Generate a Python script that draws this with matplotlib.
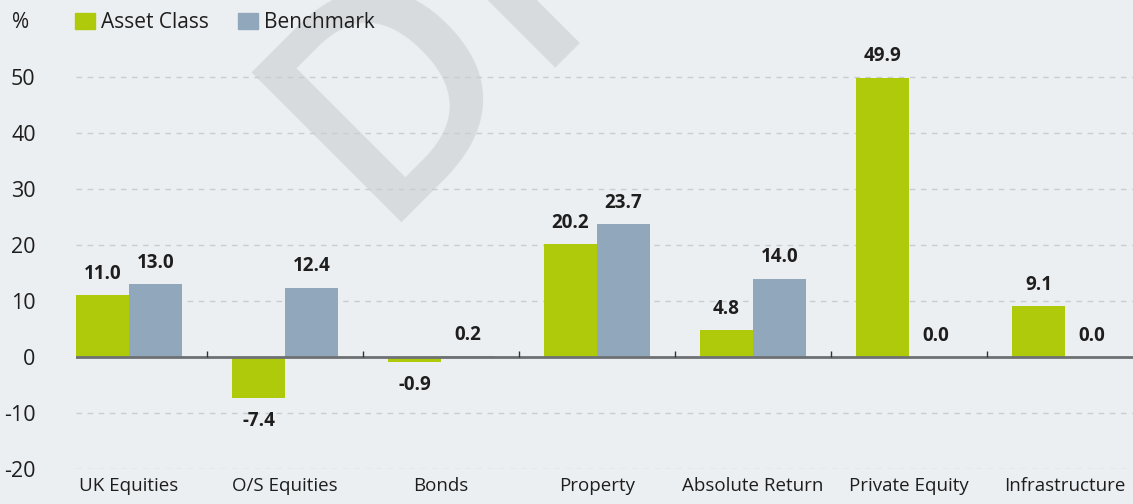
import matplotlib
matplotlib.use("Agg")
import matplotlib.pyplot as plt
import numpy as np
from matplotlib.patches import Patch

categories = ["UK Equities", "O/S Equities", "Bonds", "Property",
              "Absolute Return", "Private Equity", "Infrastructure"]
asset_class = [11.0, -7.4, -0.9, 20.2, 4.8, 49.9, 9.1]
benchmark = [13.0, 12.4, 0.2, 23.7, 14.0, 0.0, 0.0]
y_ticks = [-20, -10, 0, 10, 20, 30, 40, 50]

green = "#afca0b"
blue = "#91a7bc"
bg = "#eceff2"
text_col = "#1e1e1e"

plt.rcParams["font.family"] = ["Open Sans", "DejaVu Sans"]

fig = plt.figure(figsize=(11.33, 5.04), dpi=100, facecolor=bg)
ax = fig.add_axes([76 / 1133, 35 / 504, 1 - 76 / 1133, (469 - 21) / 504])

# watermark behind the plot
fig.text(374 / 1133, 1 - 222 / 504, "DRAFT", rotation=45, rotation_mode="anchor",
         ha="left", va="baseline", fontsize=214, fontweight="semibold",
         color="#d8dbdd", zorder=0)
ax.set_zorder(1)
ax.patch.set_alpha(0)

x = np.arange(len(categories))
w = 0.34
b1 = ax.bar(x - w / 2, asset_class, w, color=green, zorder=2)
b2 = ax.bar(x + w / 2, benchmark, w, color=blue, zorder=2)

for bars in (b1, b2):
    for rect in bars:
        v = rect.get_height()
        cx = rect.get_x() + rect.get_width() / 2
        if v < 0:
            ax.annotate(f"{v:.1f}", (cx, v), xytext=(0, -9), textcoords="offset points",
                        ha="center", va="top", fontsize=13.5, fontweight="bold",
                        color=text_col)
        else:
            ax.annotate(f"{v:.1f}", (cx, v), xytext=(0, 8), textcoords="offset points",
                        ha="center", va="bottom", fontsize=13.5, fontweight="bold",
                        color=text_col)

ax.set_xlim(-0.34, -0.34 + (1133 - 76) / 156)
ax.set_ylim(-20, 60)

for t in y_ticks:
    if t != 0:
        ax.axhline(t, color="#c9cdd1", lw=1, ls=(0, (4, 4)), zorder=1)
ax.axhline(0, color="#6e7174", lw=2, zorder=3)
ax.vlines(x[:-1] + 0.5, 0, 1.1, color="#333333", lw=1, zorder=3)

ax.set_yticks(y_ticks)
ax.set_yticklabels([str(t) for t in y_ticks])
ax.set_xticks(x)
ax.set_xticklabels(categories)
ax.tick_params(axis="y", length=0, pad=29, labelsize=15.5, labelcolor=text_col)
ax.tick_params(axis="x", length=0, pad=6, labelsize=13.5, labelcolor=text_col)
for s in ax.spines.values():
    s.set_visible(False)

fig.text(12 / 1133, 1 - 22 / 504, "%", ha="left", va="center", fontsize=15,
         color=text_col)

handles = [Patch(color=green, label="Asset Class"), Patch(color=blue, label="Benchmark")]
fig.legend(handles=handles, loc="center left", bbox_to_anchor=(75 / 1133, 1 - 23 / 504),
           ncol=2, frameon=False, fontsize=15, borderpad=0, borderaxespad=0,
           handlelength=0.95, handleheight=0.8, handletextpad=0.3,
           columnspacing=1.4, labelcolor=text_col)

fig.savefig("out.png", dpi=100, facecolor=bg)
